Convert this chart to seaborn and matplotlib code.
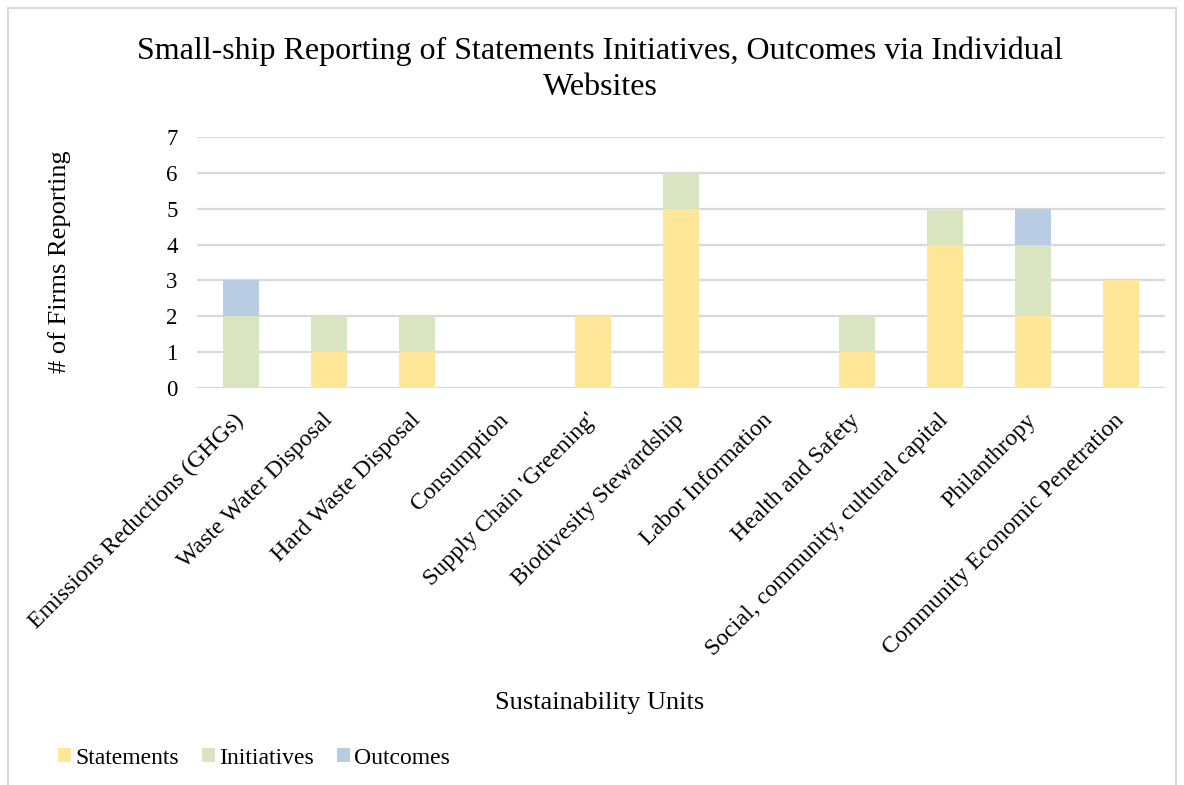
import matplotlib
matplotlib.use("Agg")
import matplotlib.pyplot as plt
import seaborn as sns
import numpy as np
from matplotlib.patches import Patch, Rectangle

categories = ["Emissions Reductions (GHGs)", "Waste Water Disposal", "Hard Waste Disposal",
              "Consumption", "Supply Chain 'Greening'", "Biodivesity Stewardship",
              "Labor Information", "Health and Safety", "Social, community, cultural capital",
              "Philanthropy", "Community Economic Penetration"]
statements = [0, 1, 1, 0, 2, 5, 0, 1, 4, 2, 3]
initiatives = [2, 1, 1, 0, 0, 1, 0, 1, 1, 2, 0]
outcomes = [1, 0, 0, 0, 0, 0, 0, 0, 0, 1, 0]
series_names = ["Statements", "Initiatives", "Outcomes"]
colors = ["#FFE699", "#D9E4C0", "#B8CCE4"]

sns.set_style("white")
plt.rcParams["font.family"] = ["Liberation Serif", "DejaVu Serif"]
plt.rcParams["text.color"] = "black"
plt.rcParams["axes.labelcolor"] = "black"
plt.rcParams["xtick.color"] = "black"
plt.rcParams["ytick.color"] = "black"

fig = plt.figure(figsize=(11.84, 7.85), dpi=100)
ax = fig.add_axes([197/1184, 1-388/785, (1165-197)/1184, (388-137)/785])

s = np.array(statements)
i = np.array(initiatives)
o = np.array(outcomes)
levels = [s + i + o, s + i, s]
for vals, c in zip(levels, [colors[2], colors[1], colors[0]]):
    sns.barplot(x=categories, y=vals, color=c, saturation=1, width=0.41,
                linewidth=0, ax=ax, order=categories)

ax.set_ylim(0, 7)
ax.set_xlim(-0.5, len(categories) - 0.5)
ax.set_yticks(range(0, 8))
ax.yaxis.grid(True, color="#D9D9D9", linewidth=1.6)
ax.set_axisbelow(True)
for sp in ax.spines.values():
    sp.set_visible(False)
ax.tick_params(axis="both", length=0, colors="black")
ax.tick_params(axis="y", pad=14, labelsize=16.5)
ax.set_xticks(range(len(categories)))
ax.set_xticklabels(categories, rotation=45, ha="right", va="center",
                   rotation_mode="anchor", fontsize=17.2)
ax.tick_params(axis="x", pad=21)
ax.set_xlabel("")
ax.set_ylabel("")

fig.text(600/1184, 1-69/785, "Small-ship Reporting of Statements Initiatives, Outcomes via Individual\nWebsites",
         ha="center", va="center", fontsize=23, linespacing=1.3)
fig.text(600/1184, 1-703/785, "Sustainability Units", ha="center", va="center", fontsize=19)
fig.text(60/1184, 1-262/785, "# of Firms Reporting", ha="center", va="center", rotation=90, fontsize=19)

handles = [Patch(facecolor=c, edgecolor="none") for c in colors]
fig.legend(handles, series_names, loc="center left", bbox_to_anchor=(58/1184, 1-758/785),
           ncol=3, frameon=False, fontsize=17, handlelength=0.55, handleheight=0.55,
           handletextpad=0.2, columnspacing=0.95, borderpad=0, borderaxespad=0)

fig.patches.append(Rectangle((8/1184, -0.05), (1176-8)/1184, 1-8/785+0.05, transform=fig.transFigure,
                             fill=False, edgecolor="#D9D9D9", linewidth=1.5))

fig.savefig("out.png", dpi=100, facecolor="white")
